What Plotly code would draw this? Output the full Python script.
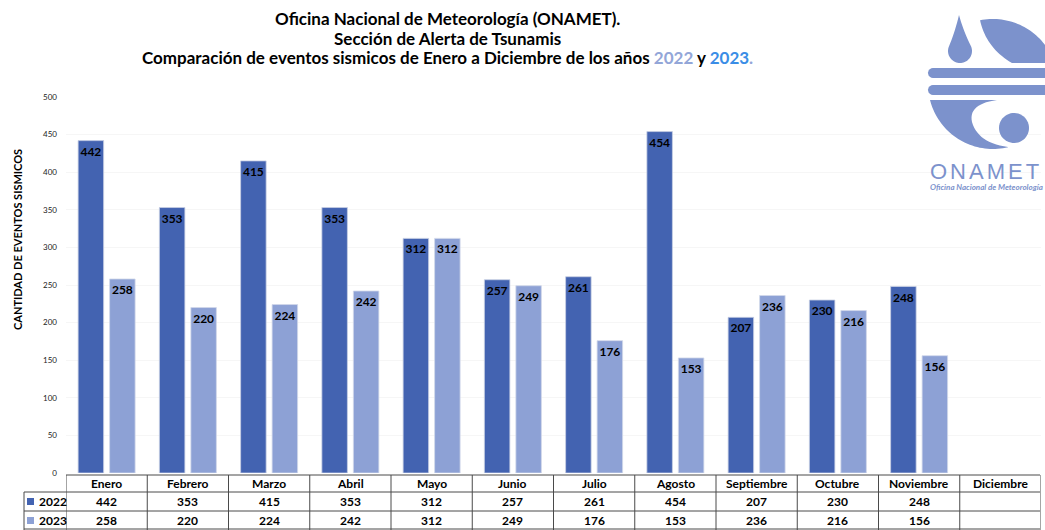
import plotly.graph_objects as go
import numpy as np

meses = ["Enero", "Febrero", "Marzo", "Abril", "Mayo", "Junio", "Julio",
         "Agosto", "Septiembre", "Octubre", "Noviembre", "Diciembre"]
v2022 = [442, 353, 415, 353, 312, 257, 261, 454, 207, 230, 248, None]
v2023 = [258, 220, 224, 242, 312, 249, 176, 153, 236, 216, 156, None]
yticks = list(range(0, 501, 50))

W, H = 1045, 530
L, R, T, B = 66, 4, 97, 57
PW = W - L - R
PH = H - T - B
FONT = "Lato"
C22 = "#4363B1"
C23 = "#8DA1D5"
LOGO = "#7C92CC"


def px(x):
    return (x - L) / PW


def py(y):
    return (H - B - y) / PH


fig = go.Figure()
fig.add_trace(go.Bar(
    name="2022", x=meses, y=v2022, marker=dict(color=C22, line=dict(color="#c8cfe3", width=0.8)),
    text=[f"<b>{v}</b>" if v is not None else "" for v in v2022],
    textposition="inside", insidetextanchor="end", constraintext="none", textangle=0,
    textfont=dict(family=FONT, size=12, color="black"), showlegend=False,
))
fig.add_trace(go.Bar(
    name="2023", x=meses, y=v2023, marker=dict(color=C23, line=dict(color="#d2d8ea", width=0.8)),
    text=[f"<b>{v}</b>" if v is not None else "" for v in v2023],
    textposition="inside", insidetextanchor="end", constraintext="none", textangle=0,
    textfont=dict(family=FONT, size=12, color="black"), showlegend=False,
))

shapes = []
annotations = []

# Titles
title_lines = [
    "<b>Oficina Nacional de Meteorología (ONAMET).</b>",
    "<b>Sección de Alerta de Tsunamis</b>",
    "<b>Comparación de eventos sismicos de Enero a Diciembre de los años "
    "<span style='color:#93A6D8'>2022</span> y <span style='color:#3A8DE6'>2023</span>"
    "<span style='color:#93A6D8'>.</span></b>",
]
for i, t in enumerate(title_lines):
    annotations.append(dict(text=t, xref="paper", yref="paper", x=px(447), y=py(18 + 20 * i),
                            xanchor="center", yanchor="middle", showarrow=False,
                            font=dict(family=FONT, size=17, color="black")))

# Y axis title
annotations.append(dict(text="<b>CANTIDAD DE EVENTOS SISMICOS</b>", xref="paper", yref="paper",
                        x=px(17), y=py(240), textangle=-90, showarrow=False,
                        xanchor="center", yanchor="middle",
                        font=dict(family=FONT, size=11, color="black")))

# Table
line = dict(color="#4a4a4a", width=1)
y_top, y_h, y_r1, y_r2 = 475, 492, 511, 530
x_right = L + PW - 1
shapes.append(dict(type="line", xref="paper", yref="paper", x0=px(L), x1=px(x_right),
                   y0=py(y_top), y1=py(y_top), line=line))
for yy in (y_h, y_r1, y_r2 - 1):
    shapes.append(dict(type="line", xref="paper", yref="paper", x0=px(24), x1=px(x_right),
                       y0=py(yy), y1=py(yy), line=line))
shapes.append(dict(type="line", xref="paper", yref="paper", x0=px(24), x1=px(24),
                   y0=py(y_h), y1=py(y_r2), line=line))
for k in range(len(meses) + 1):
    shapes.append(dict(type="line", xref="x", yref="paper", x0=k - 0.5, x1=k - 0.5,
                       y0=py(y_top), y1=py(y_r2), line=line))

tfont = dict(family=FONT, size=12, color="black")
for i, m in enumerate(meses):
    annotations.append(dict(text=f"<b>{m}</b>", xref="x", yref="paper", x=i, y=py(483.5),
                            showarrow=False, font=tfont, xanchor="center", yanchor="middle"))
    for vals, yy in ((v2022, 501.5), (v2023, 520.5)):
        if vals[i] is not None:
            annotations.append(dict(text=f"<b>{vals[i]}</b>", xref="x", yref="paper", x=i,
                                    y=py(yy), showarrow=False, font=tfont,
                                    xanchor="center", yanchor="middle"))
for name, col, yy in (("2022", C22, 501.5), ("2023", C23, 520.5)):
    shapes.append(dict(type="rect", xref="paper", yref="paper", x0=px(27), x1=px(34),
                       y0=py(yy - 3.5), y1=py(yy + 3.5), fillcolor=col, line=dict(width=0)))
    annotations.append(dict(text=f"<b>{name}</b>", xref="paper", yref="paper", x=px(37),
                            y=py(yy), showarrow=False, font=tfont, xanchor="left",
                            yanchor="middle"))


# Logo
def path_from(points):
    pts = [f"{px(x):.5f},{py(y):.5f}" for x, y in points]
    return "M " + " L ".join(pts) + " Z"


def logo_shape(points):
    shapes.append(dict(type="path", xref="paper", yref="paper", path=path_from(points),
                       fillcolor=LOGO, line=dict(width=0), layer="above"))


def quad(p0, c, p1, n=15):
    p0, c, p1 = np.array(p0), np.array(c), np.array(p1)
    out = []
    for t in np.linspace(0, 1, n):
        q = (1 - t) ** 2 * p0 + 2 * (1 - t) * t * c + t ** 2 * p1
        out.append((q[0], q[1]))
    return out


cx, cy, Rr = 993, 84, 65
# stripes
for y0, y1 in ((68, 78), (85, 95)):
    pts = [(1050, y0), (933, y0)]
    pts += [(933 - 5 * np.sin(a), (y0 + y1) / 2 - 5 * np.cos(a)) for a in np.linspace(0, np.pi, 10)]
    pts += [(1050, y1)]
    logo_shape(pts)

# upper right crescent
pts = []
a0 = np.arctan2(20 - cy, 980 - cx)
a1 = np.arctan2(63 - cy, np.sqrt(Rr ** 2 - (63 - cy) ** 2))
for a in np.linspace(a0, a1, 40):
    pts.append((cx + Rr * np.cos(a), cy + Rr * np.sin(a)))
pts.append((1012, 63))
pts += quad((1012, 63), (986, 48), (980, 20), 20)
logo_shape(pts)

# drop
pts = []
dcx, dcy, dr = 960, 51, 12
for a in np.linspace(np.radians(-25), np.radians(200), 40):
    pts.append((dcx + dr * np.cos(a), dcy + dr * np.sin(a)))
pts += quad((dcx + dr * np.cos(np.radians(200)), dcy + dr * np.sin(np.radians(200))),
            (955, 32), (959, 15), 10)
pts += quad((959, 15), (963, 30), (dcx + dr * np.cos(np.radians(-25)),
                                   dcy + dr * np.sin(np.radians(-25))), 10)
logo_shape(pts)

# lower left bowl
pts = [(930, 100), (997, 100)]
pts += quad((997, 100), (968, 104), (972, 122))
pts += quad((972, 122), (978, 143), (1008, 147))
b0 = np.arctan2(147 - cy, 1008 - cx)
b1 = np.arctan2(100 - cy, 930 - cx)
for a in np.linspace(b0, b1, 40):
    pts.append((cx + Rr * np.cos(a), cy + Rr * np.sin(a)))
logo_shape(pts)

# small circle
pts = [(1014 + 15 * np.cos(a), 128 + 15 * np.sin(a)) for a in np.linspace(0, 2 * np.pi, 50)]
logo_shape(pts)

annotations.append(dict(text="<span style='letter-spacing:3px'>ONAMET</span>", xref="paper",
                        yref="paper", x=px(928), y=py(171), xanchor="left", yanchor="middle",
                        showarrow=False, font=dict(family="Liberation Sans", size=22, color=LOGO)))
annotations.append(dict(text="<b><i>Oficina Nacional de Meteorología</i></b>", xref="paper",
                        yref="paper", x=px(928), y=py(187), xanchor="left", yanchor="middle",
                        showarrow=False, font=dict(family=FONT, size=8, color=LOGO)))

fig.update_layout(
    width=W, height=H,
    margin=dict(l=L, r=R, t=T, b=B),
    paper_bgcolor="white", plot_bgcolor="white",
    barmode="group", bargap=0.225, bargroupgap=0.19,
    xaxis=dict(range=[-0.5, 11.5], showticklabels=False, showgrid=False, zeroline=False,
               showline=False, ticks=""),
    yaxis=dict(range=[0, 500], tickvals=yticks, showgrid=True, gridcolor="#f6f6f6",
               zeroline=False, showline=False, ticks="", ticklabelstandoff=8,
               tickfont=dict(family=FONT, size=8, color="#222")),
    shapes=shapes, annotations=annotations,
    font=dict(family=FONT),
)

fig.write_html("out.html", config={"displayModeBar": False},
               post_script="document.body.style.margin='0px';")
